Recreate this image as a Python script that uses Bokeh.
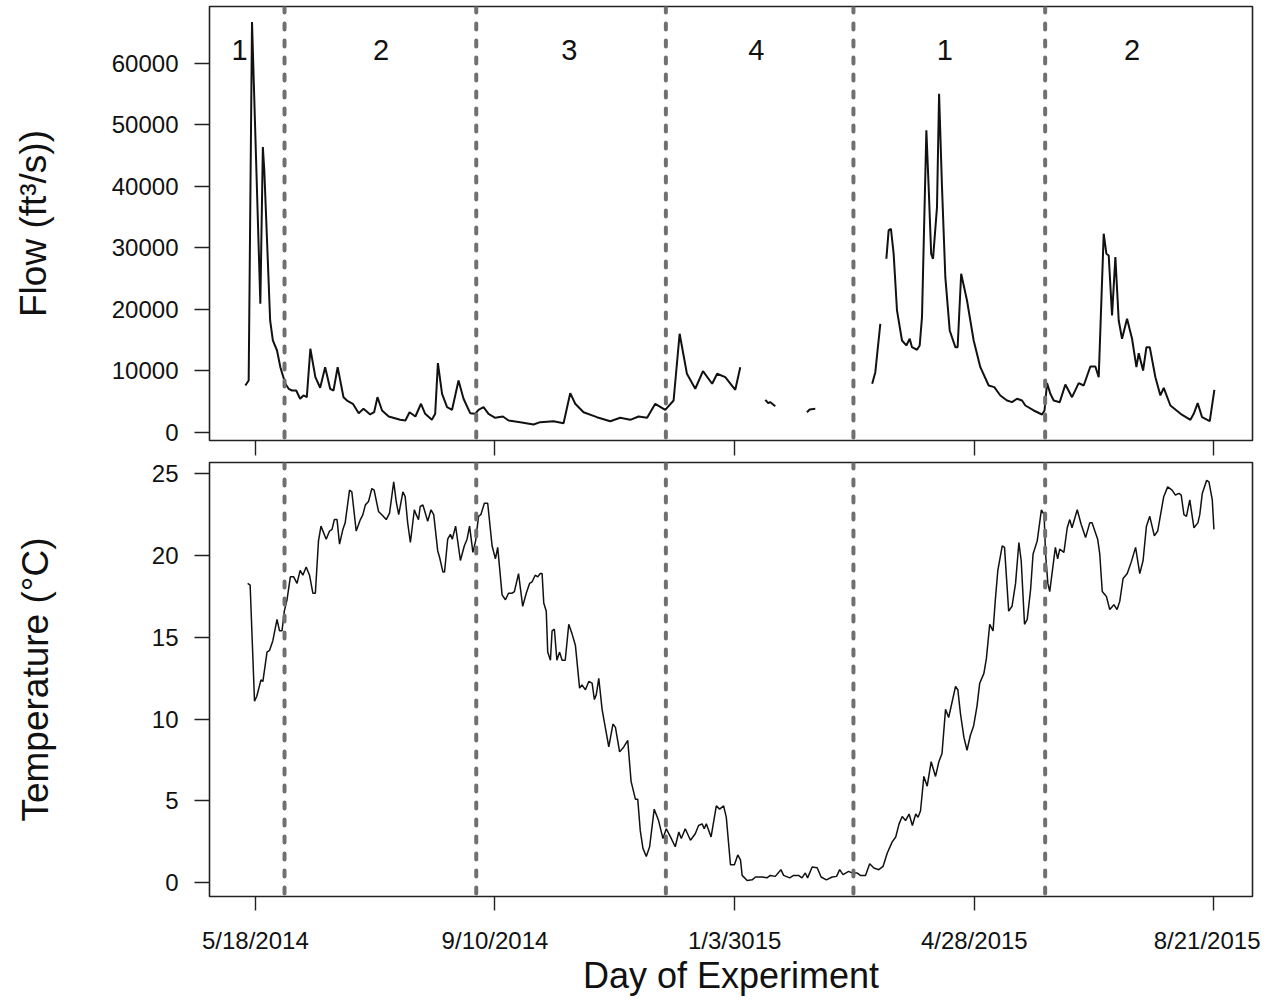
from bokeh.plotting import figure
from bokeh.layouts import column
from bokeh.models import Range1d, Span, FixedTicker, ColumnDataSource
from bokeh.core.properties import value
from bokeh.embed import file_html
from bokeh.resources import INLINE

NaN = float("nan")

# Day of experiment (0 = 5/18/2014) and river flow (ft3/s); NaN marks gaps in the record
flow_day = [-4.8, -3.2, -1.6, 2.4, 3.6, 4.3, 7.1, 8.4, 10.4, 12.0, 14.4, 16.0, 17.6, 19.6, 21.5, 23.1,
            24.7, 26.4, 28.8, 31.1, 33.5, 35.9, 37.5, 39.5, 42.3, 44.0, 46.8, 49.6, 51.9, 55.1, 57.0,
            58.6, 60.8, 64.0, 69.5, 72.0, 74.0, 76.8, 79.5, 81.5, 84.7, 86.3, 87.6, 89.6, 92.0, 94.4,
            97.5, 99.9, 103.1, 105.5, 107.1, 109.5, 111.9, 115.1, 118.8, 121.5, 127.1, 133.5, 136.7,
            143.1, 147.9, 151.1, 153.5, 157.5, 163.9, 170.3, 175.1, 179.9, 183.9, 188.0, 191.9, 196.7,
            200.7, 203.6, 207.1, 211.1, 214.8, 219.2, 221.6, 225.5, 230.3, 232.7, NaN,
            244.7, 246.2, 247.0, 249.5, NaN,
            264.7, 266.0, 268.7, NaN,
            296.0, 297.5, 299.9, NaN,
            302.8, 303.9, 305.0, 306.3, 307.9, 310.3, 312.4, 314.0, 315.1, 317.5, 318.8, 319.9, 322.0,
            323.1, 324.3, 325.2, 327.1, 328.1, 329.5, 331.1, 333.2, 335.9, 337.0, 338.7, 341.5, 344.7,
            347.9, 351.9, 354.6, 357.5, 360.7, 363.1, 365.5, 367.9, 369.5, 373.5, 377.5, 378.7, 379.9,
            381.5, 383.1, 386.0, 388.7, 391.9, 395.1, 397.5, 400.7, 403.1, 404.7, 407.1, 408.4, 409.5,
            411.1, 412.7, 414.3, 415.9, 418.3, 420.7, 422.8, 423.9, 426.0, 427.6, 429.2, 431.9, 434.3,
            435.9, 439.1, 444.0, 448.7, 450.3, 452.2, 454.3, 458.0, 460.2]
flow_cfs = [7590, 8400, 66670, 20880, 46340, 42550, 18160, 14910, 13280, 10570, 7870, 7060, 6780, 6780,
            5430, 5970, 5690, 13560, 8940, 7220, 10570, 7060, 6780, 10570, 5690, 5150, 4620, 3090, 3800,
            2880, 3250, 5690, 3530, 2550, 2010, 1900, 3250, 2550, 4620, 2990, 2010, 2990, 11220, 6240,
            4070, 3640, 8400, 5430, 3090, 2990, 3640, 4070, 2990, 2340, 2550, 1900, 1630, 1250, 1630,
            1790, 1460, 6340, 4620, 3250, 2440, 1790, 2340, 2010, 2550, 2340, 4620, 3640, 5150, 16000,
            9500, 7060, 9920, 7870, 9500, 8940, 6890, 10570, NaN,
            5260, 4700, 4900, 4230, NaN,
            3250, 3700, 3800, NaN,
            7870, 9760, 17620, NaN,
            28190, 32800, 33070, 29000, 19790, 14910, 14100, 15190, 13820, 13400, 14100, 18700, 49060,
            39840, 29000, 28190, 36590, 55020, 39840, 25200, 16540, 13820, 13820, 25760, 21410, 14910,
            10570, 7590, 7320, 5970, 5150, 4880, 5430, 5150, 4340, 3530, 2880, 3530, 7970, 6240, 5150,
            4880, 7760, 5690, 7970, 7590, 10680, 10680, 8940, 32260, 29000, 28730, 18970, 28460, 18160,
            15190, 18430, 15190, 10570, 12850, 10030, 13820, 13820, 8940, 5970, 7220, 4340, 2990, 2010,
            2990, 4720, 2440, 1790, 6890]

# Day of experiment and water temperature (deg C)
temp_day = [-3.7, -2.5, -0.4, 0.7, 2.7, 3.6, 5.6, 6.8, 8.4, 10.4, 11.6, 12.8, 13.9, 15.2, 16.8, 18.4,
            20.0, 21.5, 22.8, 24.4, 26.0, 27.6, 28.8, 30.3, 31.5, 34.0, 35.6, 36.8, 37.9, 39.2, 40.4,
            42.0, 43.1, 45.2, 46.3, 48.4, 50.4, 51.6, 52.8, 54.3, 55.9, 57.0, 59.1, 60.7, 62.8, 64.4,
            66.4, 67.6, 68.8, 70.8, 71.9, 73.1, 74.4, 76.3, 77.2, 78.3, 79.1, 80.4, 82.7, 84.3, 85.6,
            87.5, 88.4, 90.0, 90.8, 92.3, 93.6, 94.5, 96.1, 98.4, 100.3, 101.6, 102.8, 104.4, 105.7,
            107.1, 108.2, 109.9, 111.5, 113.6, 115.2, 116.3, 118.4, 120.0, 121.5, 123.2, 124.3, 126.3,
            128.3, 130.0, 131.6, 132.8, 134.3, 135.5, 136.7, 137.6, 138.4, 139.6, 140.3, 141.6, 142.4,
            143.5, 144.7, 146.0, 147.2, 148.7, 150.4, 152.0, 153.6, 155.6, 156.7, 158.4, 160.0, 161.6,
            162.7, 163.6, 164.8, 166.4, 167.5, 169.6, 171.6, 172.8, 174.8, 176.8, 178.7, 180.3, 182.4,
            183.5, 184.7, 186.0, 187.6, 189.2, 191.4, 193.5, 195.6, 197.2, 199.2, 201.5, 203.2, 204.4,
            206.3, 208.8, 211.1, 212.7, 214.4, 215.4, 216.4, 218.7, 221.2, 222.8, 224.7, 226.0, 228.0,
            229.9, 231.5, 232.8, 233.6, 236.0, 238.4, 240.0, 243.2, 245.5, 247.1, 249.5, 252.2, 253.5,
            256.4, 258.3, 260.7, 262.3, 263.9, 265.0, 267.2, 269.6, 271.5, 274.0, 276.8, 278.9, 280.4,
            282.0, 284.7, 286.3, 288.7, 290.3, 292.8, 294.8, 296.8, 299.2, 301.2, 303.2, 305.6, 307.3,
            308.9, 310.4, 312.0, 313.7, 315.3, 316.9, 318.0, 319.2, 320.8, 322.4, 324.3, 326.4, 328.0,
            329.5, 331.2, 332.7, 336.0, 337.1, 338.4, 340.0, 341.5, 343.1, 344.7, 346.3, 347.6, 349.6,
            350.8, 352.4, 354.0, 355.1, 356.3, 358.4, 359.5, 361.5, 363.1, 364.8, 366.4, 367.5, 369.1,
            370.4, 372.0, 373.2, 375.2, 377.2, 378.5, 379.2, 380.3, 381.2, 383.9, 385.0, 386.0, 388.0,
            389.6, 390.8, 391.9, 394.4, 396.3, 398.4, 400.4, 401.5, 404.2, 405.2, 406.4, 408.4, 410.0,
            412.0, 413.5, 414.8, 416.4, 418.4, 420.3, 422.4, 424.4, 426.0, 427.6, 429.2, 431.4, 433.0,
            435.9, 437.8, 439.9, 441.5, 443.2, 444.3, 445.6, 446.8, 448.4, 450.4, 452.3, 453.2, 454.4,
            456.5, 457.6, 459.2, 460.0]
temp_c = [18.3, 18.2, 11.1, 11.4, 12.4, 12.3, 14.1, 14.2, 14.8, 16.1, 15.4, 15.4, 16.6, 17.3, 18.7, 18.7,
          18.3, 19.1, 18.8, 19.3, 18.8, 17.7, 17.7, 20.9, 21.8, 21.0, 21.5, 21.6, 22.2, 22.2, 20.7,
          21.6, 22.0, 24.0, 23.9, 21.5, 22.2, 22.5, 23.1, 23.3, 24.1, 24.0, 22.7, 22.5, 22.2, 22.6,
          24.5, 23.3, 22.5, 23.9, 23.6, 22.0, 20.8, 22.8, 22.5, 22.2, 23.0, 23.1, 22.1, 22.8, 22.5,
          20.3, 19.9, 19.0, 19.0, 21.0, 21.3, 21.0, 21.8, 19.7, 20.6, 21.0, 21.8, 20.2, 20.9,
          22.4, 22.5, 23.2, 23.2, 20.6, 19.8, 20.5, 17.6, 17.3, 17.7, 17.7, 17.8, 18.9,
          16.9, 17.7, 18.3, 18.4, 18.8, 18.7, 18.9, 18.9, 17.1, 16.6, 14.1, 13.6, 15.4,
          15.5, 13.6, 14.1, 13.6, 13.6, 15.8, 15.2, 14.5, 11.9, 12.1, 11.8, 12.3, 12.2,
          11.2, 11.5, 12.5, 10.6, 9.8, 8.3, 9.7, 9.5, 8.0, 8.3, 8.7, 6.2, 5.1,
          5.1, 3.2, 2.1, 1.6, 2.2, 4.5, 3.8, 2.7, 3.3, 2.8, 2.2, 3.1, 2.7,
          3.3, 2.6, 3.0, 3.5, 3.6, 3.3, 3.6, 2.8, 4.7, 4.5, 4.7, 4.0, 1.1,
          1.1, 1.7, 1.4, 0.45, 0.14, 0.18, 0.35, 0.35, 0.3, 0.45, 0.39, 0.8, 0.45,
          0.3, 0.45, 0.45, 0.3, 0.6, 0.3, 0.96, 0.92, 0.35, 0.18, 0.35, 0.39, 0.8,
          0.5, 0.7, 0.6, 0.6, 0.45, 0.45, 1.16, 0.9, 0.8, 1.0, 1.8, 2.5, 2.8,
          3.6, 4.05, 3.8, 4.2, 3.5, 4.2, 4.0, 4.4, 6.5, 5.9, 7.4, 6.5, 7.4,
          7.9, 10.6, 10.1, 12.0, 11.8, 10.3, 8.9, 8.1, 9.0, 9.6, 10.8, 12.2, 12.8,
          13.7, 15.8, 15.4, 17.3, 19.1, 20.6, 20.5, 16.6, 16.9, 18.3, 20.8, 19.7, 15.8,
          16.1, 17.9, 20.1, 20.9, 22.8, 22.5, 20.1, 18.3, 17.8, 20.5, 19.8, 20.4, 20.2,
          21.7, 22.2, 21.7, 22.8, 21.9, 21.1, 22.0, 22.0, 21.0, 20.1, 17.8, 17.5, 16.7,
          17.0, 16.7, 17.2, 18.6, 18.9, 19.6, 20.5, 18.9, 19.7, 21.8, 22.4, 21.2, 21.5,
          23.6, 24.2, 24.0, 23.7, 23.8, 23.7, 22.5, 22.4, 23.4, 21.7, 22.0, 22.5, 23.8,
          24.6, 24.5, 23.4, 21.6]

# Season boundaries (day of experiment): 6/1/2014, 9/1/2014, 12/1/2014, 3/1/2015, 6/1/2015
season_breaks = [14, 106, 197, 287, 379]
season_label_day = [-7.6, 60.3, 150.7, 240.4, 330.8, 420.7]
season_labels = ["1", "2", "3", "4", "1", "2"]

x_ticks = [0, 115, 230, 345, 460]
x_tick_labels = ["5/18/2014", "9/10/2014", "1/3/3015", "4/28/2015", "8/21/2015"]
flow_ticks = [0, 10000, 20000, 30000, 40000, 50000, 60000]
temp_ticks = [0, 5, 10, 15, 20, 25]

FONT = "Liberation Sans"
x_range = Range1d(-22, 478.5)


def style(p, yticks):
    p.outline_line_color = "#222222"
    p.outline_line_width = 1.6
    p.grid.visible = False
    for ax in (p.xaxis[0], p.yaxis[0]):
        ax.axis_line_color = None
        ax.major_tick_line_color = "#222222"
        ax.major_tick_line_width = 1.4
        ax.major_tick_in = 0
        ax.minor_tick_line_color = None
        ax.major_label_text_font = FONT
        ax.major_label_text_font_size = "24px"
        ax.major_label_text_color = "#111111"
        ax.axis_label_text_font = FONT
        ax.axis_label_text_font_style = "normal"
        ax.axis_label_text_font_size = "37px"
        ax.axis_label_text_color = "#111111"
    p.xaxis.ticker = FixedTicker(ticks=x_ticks)
    p.yaxis.ticker = FixedTicker(ticks=yticks)
    p.yaxis.major_tick_out = 15
    p.yaxis.major_label_standoff = 16
    for loc in season_breaks:
        p.add_layout(Span(location=loc, dimension="height", line_color="#707070",
                          line_width=4, line_dash="6 11", line_cap="round"))


p1 = figure(frame_width=1043, frame_height=434, x_range=x_range, y_range=Range1d(-1350, 69200),
            output_backend="svg", toolbar_location=None, min_border_left=209, min_border_right=8,
            min_border_top=6, min_border_bottom=18, background_fill_color="white")
style(p1, flow_ticks)
p1.xaxis.major_label_overrides = {t: "" for t in x_ticks}
p1.xaxis.major_label_text_font_size = "1px"
p1.xaxis.major_label_standoff = 0
p1.xaxis.major_tick_out = 15
p1.yaxis.axis_label = "Flow (ft³/s))"
p1.yaxis.axis_label_standoff = 55
p1.line(flow_day, flow_cfs, line_color="#111111", line_width=2.0)

lab_src = ColumnDataSource(dict(x=season_label_day, y=[62200] * len(season_label_day), t=season_labels))
p1.text(x="x", y="y", text="t", source=lab_src, text_font=value(FONT), text_font_size="29px",
        text_align="center", text_baseline="alphabetic", text_color="#111111")

p2 = figure(frame_width=1043, frame_height=434, x_range=x_range, y_range=Range1d(-0.84, 25.69),
            output_backend="svg", toolbar_location=None, min_border_left=209, min_border_right=8,
            min_border_top=4, min_border_bottom=0, background_fill_color="white")
style(p2, temp_ticks)
p2.xaxis.major_label_overrides = {t: s for t, s in zip(x_ticks, x_tick_labels)}
p2.xaxis.major_tick_out = 14
p2.xaxis.major_label_standoff = 16
p2.xaxis.axis_label = "Day of Experiment"
p2.xaxis.axis_label_text_font_size = "36px"
p2.xaxis.axis_label_standoff = -2
p2.yaxis.axis_label = "Temperature (°C)"
p2.yaxis.axis_label_standoff = 93
p2.line(temp_day, temp_c, line_color="#111111", line_width=1.5)

layout = column(p1, p2, spacing=0)
open("out.html", "w").write(file_html(layout, INLINE))
